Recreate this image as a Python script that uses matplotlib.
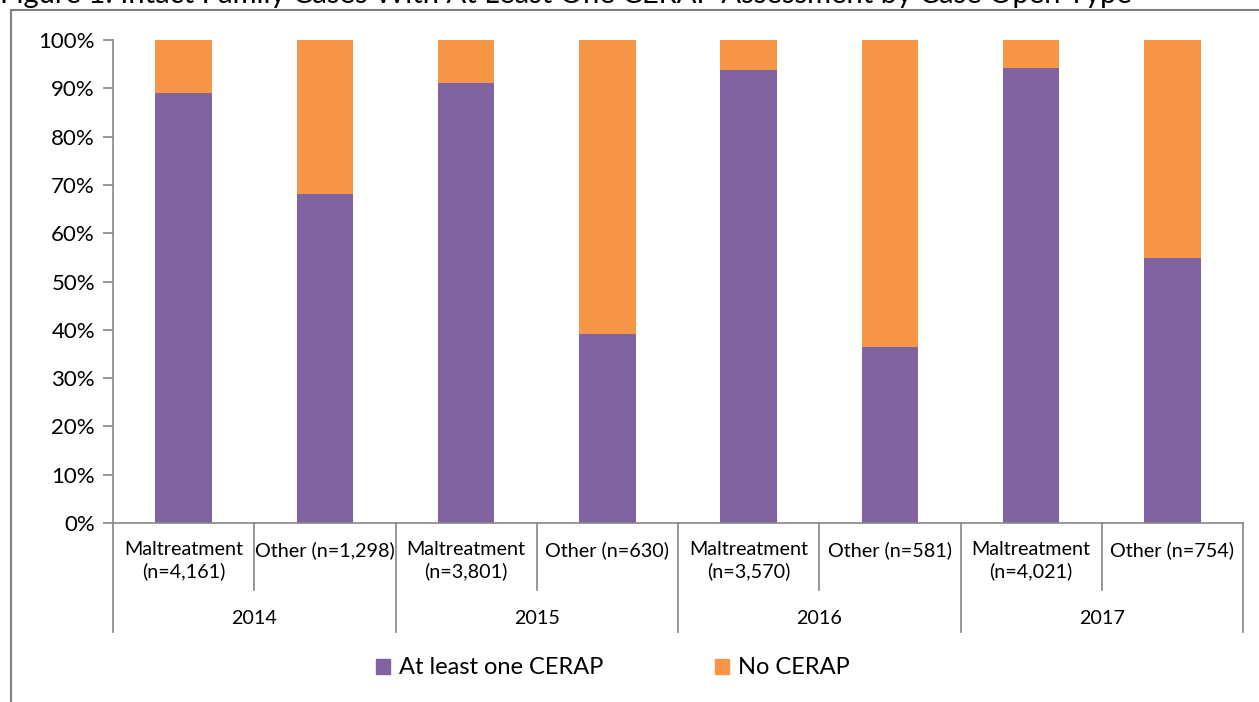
import matplotlib
matplotlib.use("Agg")
import matplotlib.pyplot as plt
from matplotlib.patches import Patch, Rectangle
import matplotlib.transforms as mtransforms

plt.rcParams['font.family'] = ['Lato', 'DejaVu Sans']

# data
years = ['2014', '2015', '2016', '2017']
categories = ['Maltreatment\n(n=4,161)', 'Other (n=1,298)',
              'Maltreatment\n(n=3,801)', 'Other (n=630)',
              'Maltreatment\n(n=3,570)', 'Other (n=581)',
              'Maltreatment\n(n=4,021)', 'Other (n=754)']
at_least_one = [89.0, 68.1, 91.1, 39.2, 93.8, 36.5, 94.2, 54.9]
no_cerap = [100 - v for v in at_least_one]

purple = '#8064A2'
orange = '#F79646'
axgray = '#868686'

fig = plt.figure(figsize=(12.59, 7.02), dpi=100)
ax = fig.add_axes([113 / 1259, 1 - 523 / 702, (1243 - 113) / 1259, 483 / 702])

x = list(range(len(categories)))
ax.bar(x, at_least_one, width=0.4, color=purple)
ax.bar(x, no_cerap, width=0.4, bottom=at_least_one, color=orange)

ax.set_xlim(-0.5, len(categories) - 0.5)
ax.set_ylim(0, 100)
ax.set_yticks(range(0, 101, 10))
ax.set_yticklabels([f'{v}%' for v in range(0, 101, 10)], fontsize=16)
ax.tick_params(axis='y', length=7, color=axgray, width=1.2, pad=6)
ax.set_xticks([])
for s in ['top', 'right']:
    ax.spines[s].set_visible(False)
for s in ['left', 'bottom']:
    ax.spines[s].set_color(axgray)
    ax.spines[s].set_linewidth(1.2)

# multi-level category axis
trans = mtransforms.blended_transform_factory(ax.transData, ax.transAxes)
inner_end = -(590 - 523) / 483
outer_end = -(632 - 523) / 483
for i in range(len(categories) + 1):
    xp = i - 0.5
    yend = outer_end if i % 2 == 0 else inner_end
    ax.plot([xp, xp], [0, yend], transform=trans, color=axgray, lw=1.2, clip_on=False)
for i, lab in enumerate(categories):
    ax.text(i, -0.037, lab, transform=trans, ha='center', va='top',
            fontsize=14.2, linespacing=1.3)
for j, yr in enumerate(years):
    ax.text(2 * j + 0.5, -(618 - 523) / 483, yr, transform=trans,
            ha='center', va='center', fontsize=14.2)

handles = [Patch(color=purple, label='At least one CERAP'),
           Patch(color=orange, label='No CERAP')]
fig.legend(handles=handles, loc='center', bbox_to_anchor=(613 / 1259, 1 - 668 / 702),
           ncol=2, frameon=False, fontsize=17, handlelength=0.6, handleheight=0.6,
           handletextpad=0.4, columnspacing=4.7)

# outer chart frame and the clipped title above it
fig.patches.append(Rectangle((11 / 1259, -0.05), 1.1, 1 - 10 / 702 + 0.05,
                             transform=fig.transFigure, fill=False,
                             edgecolor='#808080', lw=1.5))
fig.text(0.0, 1 - 3 / 702, 'Figure 1: Intact Family Cases With At Least One CERAP Assessment by Case Open Type',
         ha='left', va='baseline', fontsize=21)

fig.savefig('out.png', dpi=100)
